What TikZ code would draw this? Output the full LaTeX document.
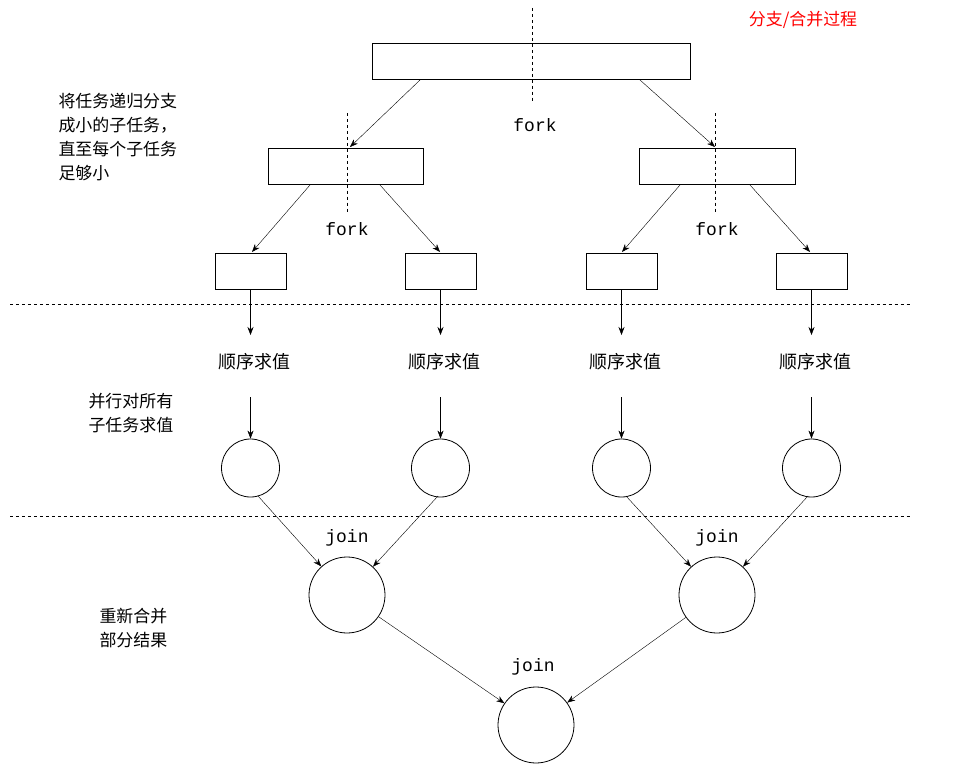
\documentclass[tikz,border=0pt]{standalone}
\usepackage{fontspec}
\setmainfont{Liberation Serif}
\setmonofont{Liberation Mono}
\newfontfamily\cjk{Noto Sans CJK SC}
\usetikzlibrary{arrows.meta}
\begin{document}
\begin{tikzpicture}[x=1bp,y=-1bp,
 box/.style={draw,thick,minimum height=36bp,inner sep=0},
 circ/.style={draw,thick,circle,inner sep=0},
 arr/.style={-{Stealth[length=8bp,width=6bp]}},
 dsh/.style={dashed,semithick},
 lbl/.style={font=\cjk\fontsize{17}{24}\selectfont,align=left,anchor=west},
 cd/.style={font=\ttfamily\fontsize{18}{20}\selectfont}]
\useasboundingbox (0,0) rectangle (972,779);
\node[box,minimum width=318bp] (t) at (531,61.5) {};
\node[box,minimum width=155bp] (l) at (345.5,166) {};
\node[box,minimum width=156bp] (r) at (717,166) {};
\foreach \n/\x in {a/250.5,b/440.5,c/621.5,d/811.5}{
 \node[box,minimum width=71bp] (\n) at (\x,271) {};
 \node[font=\cjk\fontsize{18}{20}\selectfont] (s\n) at (\x+4,362) {顺序求值};
 \node[circ,minimum size=58bp] (c\n) at (\x,468) {};
 \draw[arr] (\n.south) -- (\x,335);
 \draw[arr] (\x,397) -- (c\n.north);
}
\node[circ,minimum size=76bp] (L) at (347,595) {};
\node[circ,minimum size=76bp] (R) at (717,595) {};
\node[circ,minimum size=76bp] (B) at (536,725) {};
\draw[dsh] (532,8) coordinate (v1) -- (532,103);
\draw[dsh] (347,113) -- (347,213);
\draw[dsh] (715,113) -- (715,213);
\draw[dsh] (10,304) -- (912,304);
\draw[dsh] (10,516) -- (912,516);
\node[cd] (f1) at (535,125) {fork};
\node[cd] (f2) at (347,229) {fork};
\node[cd] (f3) at (717,229) {fork};
\node[cd] (j1) at (347,538) {join};
\node[cd] (j2) at (717,538) {join};
\node[cd] (j3) at (533,667) {join};
\draw[arr] (420,80) -- (350,147);
\draw[arr] (640,80) -- (715,147);
\draw[arr] (310,185) -- (252,252);
\draw[arr] (380,185) -- (440,252);
\draw[arr] (680,185) -- (622,252);
\draw[arr] (750,185) -- (810,252);
\draw[arr] (258,496) -- (L);
\draw[arr] (438,496) -- (L);
\draw[arr] (626,496) -- (R);
\draw[arr] (808,496) -- (R);
\draw[arr] (L) -- (B);
\draw[arr] (R) -- (B);
\node[lbl] (x1) at (55,137) {将任务递归分支\\成小的子任务，\\直至每个子任务\\足够小};
\node[lbl] (x2) at (85,413) {并行对所有\\子任务求值};
\node[lbl] (x3) at (96,628) {重新合并\\部分结果};
\node[font=\cjk\fontsize{17}{20}\selectfont,text=red] (ttl) at (803,20) {分支/合并过程};
\end{tikzpicture}
\end{document}
